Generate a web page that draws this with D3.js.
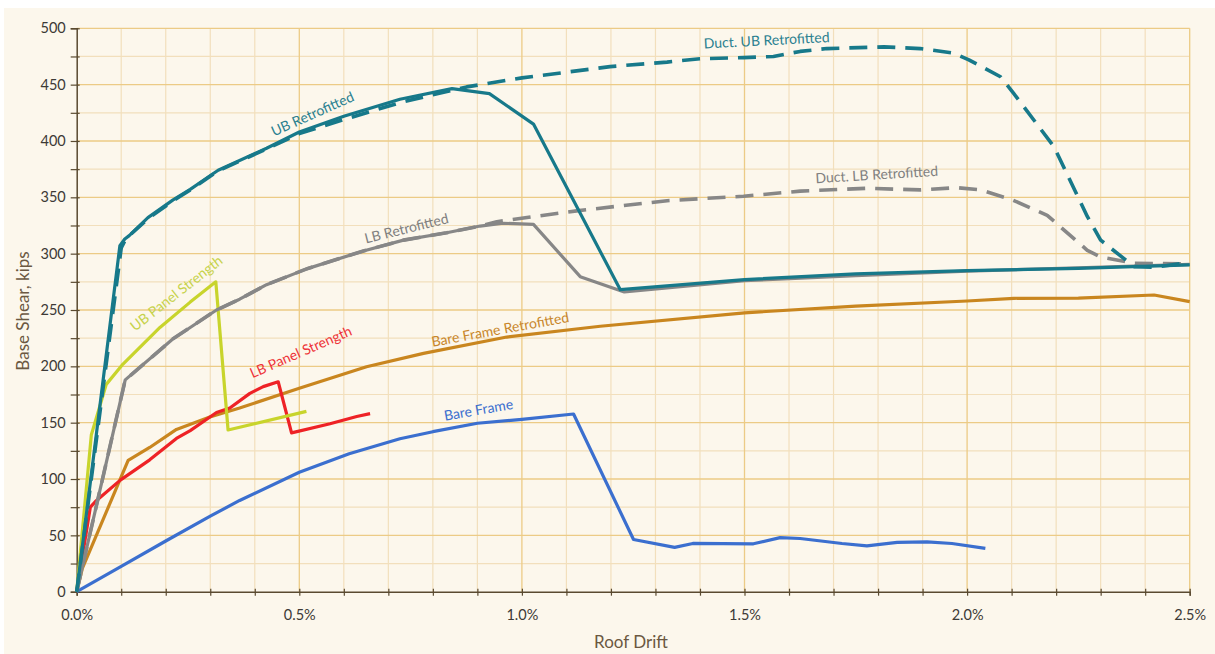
<!DOCTYPE html>
<html>
<head>
<meta charset="utf-8">
<script src="https://cdn.jsdelivr.net/npm/d3@7"></script>
<style>
  html, body { margin: 0; padding: 0; background: #ffffff; }
  svg { display: block; }
  text { font-family: Lato, "Noto Sans", sans-serif; }
</style>
</head>
<body>
<svg id="chart" width="1215" height="654"></svg>
<script>
// Pushover curves: roof drift (%) vs. base shear (kips)
const bareFrame = [[0,0],[0.1,22.5],[0.2,45],[0.3,67],[0.366,81],[0.5,106],[0.612,122.5],[0.726,135.7],[0.8,142],[0.9,149.5],[1.0,153],[1.116,157.7],[1.2507,46.3],[1.343,39.3],[1.384,42.8],[1.52,42.5],[1.58,48],[1.625,47.2],[1.719,42.8],[1.775,40.7],[1.843,43.7],[1.91,44.3],[1.966,42.8],[2.041,38.4]];
const bareFrameRetrofitted = [[0,0],[0.0127,20.7],[0.1156,116.5],[0.164,128],[0.224,144],[0.299,155],[0.366,163],[0.5,180.5],[0.651,199.6],[0.779,211.5],[0.966,226],[1.176,235.6],[1.5,247.5],[1.75,253.5],[2.0,258],[2.105,260.4],[2.25,260.5],[2.42,263.3],[2.5,257.4]];
const lbPanelStrength = [[0,0],[0.0306,75],[0.042,80],[0.098,99],[0.164,117],[0.224,136],[0.255,143],[0.314,159],[0.344,163],[0.389,176],[0.419,182],[0.4526,186.3],[0.4826,141],[0.569,149],[0.629,155.5],[0.659,158]];
const ubPanelStrength = [[0,0],[0.0328,139],[0.0664,184],[0.104,202],[0.187,234.5],[0.255,257],[0.3125,275],[0.34,143.5],[0.516,160]];
const lbRetrofitted = [[0,0],[0.109,188],[0.2165,224.5],[0.255,234.5],[0.314,250],[0.366,259.6],[0.4265,272.5],[0.5165,286.5],[0.644,302.4],[0.734,312],[0.831,318.6],[0.906,324.5],[0.958,327],[1.026,326],[1.131,279.6],[1.23,266],[1.5,276],[1.75,280.5],[2.0,284.5],[2.25,287.5],[2.5,290.5]];
const ductLbRetrofitted = [[0,0],[0.109,188],[0.2165,224.5],[0.255,234.5],[0.314,250],[0.366,259.6],[0.4265,272.5],[0.5165,286.5],[0.644,302.4],[0.734,312],[0.831,318.6],[0.906,324.5],[0.9436,328.4],[1.123,338],[1.326,347],[1.498,351],[1.625,355.5],[1.775,358],[1.895,356.6],[1.977,358.6],[2.03,356.6],[2.1,348],[2.18,334],[2.27,303],[2.3,297],[2.375,291.5],[2.5,291]];
const ubRetrofitted = [[0,0],[0.097,307],[0.108,313],[0.118,316],[0.16,332],[0.2165,347.7],[0.255,357],[0.3177,374],[0.4265,393.6],[0.5,408],[0.6,422],[0.726,437],[0.843,446.5],[0.927,442],[1.026,415],[1.221,268],[1.5,277],[1.75,282],[2.0,285],[2.25,287],[2.5,290]];
const ductUbRetrofitted = [[0,0],[0.1,305],[0.11,313],[0.16,331],[0.2165,347],[0.255,356.5],[0.3177,373.5],[0.4265,393],[0.5,406.5],[0.6,419],[0.726,434],[0.843,445],[0.876,448],[1.0,456],[1.198,466],[1.326,470],[1.4,473],[1.498,474],[1.565,475],[1.625,479.5],[1.685,482],[1.813,483.5],[1.895,482],[1.97,478],[2.004,472],[2.075,457],[2.105,442],[2.195,395],[2.27,333],[2.3,312],[2.375,288.5],[2.42,288],[2.498,292]];

const yTicks = [0,50,100,150,200,250,300,350,400,450,500];
const xTicks = [0,0.5,1.0,1.5,2.0,2.5];
const xTickLabels = ["0.0%","0.5%","1.0%","1.5%","2.0%","2.5%"];

const svg = d3.select("#chart");
const W = 1215, H = 654;

// panel background
svg.append("rect").attr("x", 4).attr("y", 8).attr("width", W - 4).attr("height", H - 8).attr("fill", "#fcf7ec");

const x = d3.scaleLinear().domain([0, 2.5]).range([76.7, 1189.7]);
const y = d3.scaleLinear().domain([0, 500]).range([591.7, 28.3]);

const g = svg.append("g");

// grid: minor then major
const minorX = d3.range(0.1, 2.5001, 0.1).filter(v => Math.abs(v * 2 - Math.round(v * 2)) > 1e-6);
const majorX = [0.5, 1.0, 1.5, 2.0, 2.5];
const minorY = d3.range(25, 500, 50);
const majorY = d3.range(50, 500.1, 50);

g.selectAll(".gx-minor").data(minorX).join("line")
  .attr("x1", d => x(d)).attr("x2", d => x(d)).attr("y1", y(0)).attr("y2", y(500))
  .attr("stroke", "#f2dfbc").attr("stroke-width", 1.2);
g.selectAll(".gy-minor").data(minorY).join("line")
  .attr("x1", x(0)).attr("x2", x(2.5)).attr("y1", d => y(d)).attr("y2", d => y(d))
  .attr("stroke", "#f2dfbc").attr("stroke-width", 1.2);
g.selectAll(".gx-major").data(majorX).join("line")
  .attr("x1", d => x(d)).attr("x2", d => x(d)).attr("y1", y(0)).attr("y2", y(500))
  .attr("stroke", "#eccb86").attr("stroke-width", 1.3);
g.selectAll(".gy-major").data(majorY).join("line")
  .attr("x1", x(0)).attr("x2", x(2.5)).attr("y1", d => y(d)).attr("y2", d => y(d))
  .attr("stroke", "#eccb86").attr("stroke-width", 1.3);

// axes
const axisColor = "#5a4a30";
const yAxis = d3.axisLeft(y).tickValues(d3.range(0, 500.1, 25))
  .tickFormat(d => yTicks.includes(d) ? d : "").tickSize(6).tickPadding(6);
const yG = svg.append("g").attr("transform", `translate(${x(0)},0)`).call(yAxis);
yG.select(".domain").attr("stroke", axisColor).attr("stroke-width", 1.5);
yG.selectAll(".tick line").attr("stroke", axisColor).attr("stroke-width", 1.2).attr("x2", -6).attr("x1", 3);
yG.selectAll(".tick text").attr("fill", "#3d3a36").style("font-size", "14.5px").attr("x", -11);

const xAxis = d3.axisBottom(x).tickValues(d3.range(0, 2.5001, 0.1))
  .tickFormat(d => { const i = xTicks.findIndex(t => Math.abs(t - d) < 1e-6); return i >= 0 ? xTickLabels[i] : ""; })
  .tickSize(4).tickPadding(14);
const xG = svg.append("g").attr("transform", `translate(0,${y(0)})`).call(xAxis);
xG.select(".domain").attr("stroke", axisColor).attr("stroke-width", 1.5);
xG.selectAll(".tick line").attr("stroke", axisColor).attr("stroke-width", 1.2).attr("y1", -3).attr("y2", 4);
xG.selectAll(".tick text").attr("fill", "#3d3a36").style("font-size", "14.5px");

// axis titles
svg.append("text").attr("x", 631).attr("y", 648).attr("text-anchor", "middle")
  .attr("fill", "#6b5841").style("font-size", "17px").text("Roof Drift");
svg.append("text").attr("transform", "translate(29,311) rotate(-90)").attr("text-anchor", "middle")
  .attr("fill", "#6b5841").style("font-size", "17px").text("Base Shear, kips");

// curves
const line = d3.line().x(d => x(d[0])).y(d => y(d[1]));
const series = [
  { data: bareFrame, color: "#3b6fcf", dash: null },
  { data: bareFrameRetrofitted, color: "#c9861f", dash: null },
  { data: lbPanelStrength, color: "#ee2226", dash: null },
  { data: ubPanelStrength, color: "#c8d42c", dash: null },
  { data: ductLbRetrofitted, color: "#878787", dash: "18,10" },
  { data: lbRetrofitted, color: "#878787", dash: null },
  { data: ductUbRetrofitted, color: "#17798a", dash: "18,10" },
  { data: ubRetrofitted, color: "#17798a", dash: null }
];
svg.append("g").selectAll("path").data(series).join("path")
  .attr("d", d => line(d.data))
  .attr("fill", "none")
  .attr("stroke", d => d.color)
  .attr("stroke-width", d => d.dash ? 3.6 : 3.2)
  .attr("stroke-dasharray", d => d.dash)
  .attr("stroke-linejoin", "round");

// curve labels, placed along their curves
const curveLabels = [
  { text: "UB Retrofitted", at: [0.443, 404], angle: -24, color: "#2a8090" },
  { text: "Duct. UB Retrofitted", at: [1.409, 482], angle: -3, color: "#2a8090" },
  { text: "Duct. LB Retrofitted", at: [1.66, 362.5], angle: -3.5, color: "#808080" },
  { text: "LB Retrofitted", at: [0.65, 309], angle: -14, color: "#808080" },
  { text: "UB Panel Strength", at: [0.131, 230.7], angle: -38, color: "#c6d24a" },
  { text: "LB Panel Strength", at: [0.395, 189.4], angle: -23.5, color: "#ee3338" },
  { text: "Bare Frame Retrofitted", at: [0.799, 217.4], angle: -10.3, color: "#c8862a" },
  { text: "Bare Frame", at: [0.827, 151.7], angle: -10, color: "#3b6fcf" }
];
svg.append("g").selectAll("text").data(curveLabels).join("text")
  .attr("transform", d => `translate(${x(d.at[0])},${y(d.at[1])}) rotate(${d.angle})`)
  .attr("fill", d => d.color)
  .style("font-size", "14px")
  .text(d => d.text);
</script>
</body>
</html>
